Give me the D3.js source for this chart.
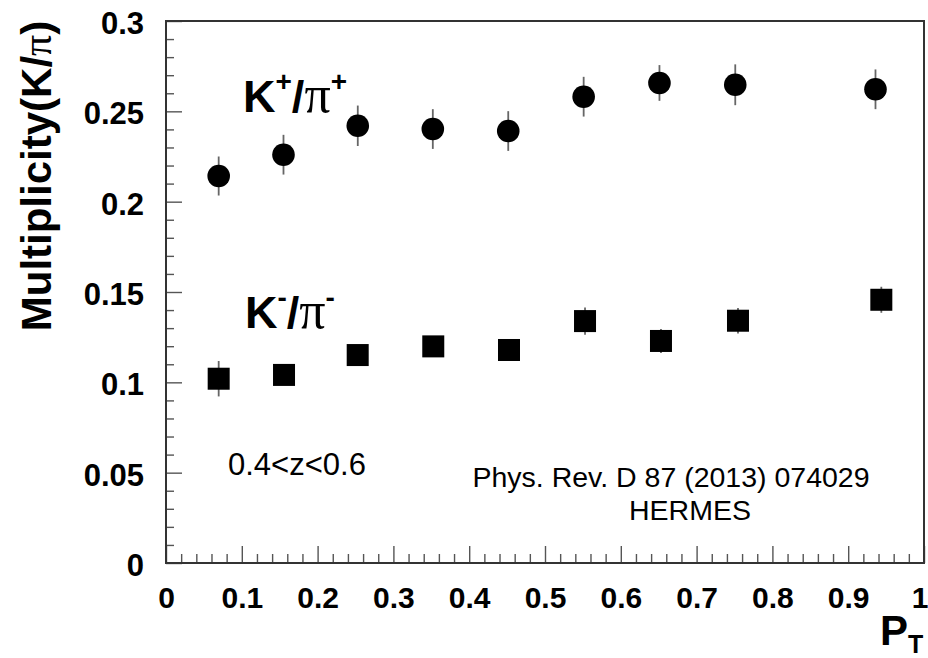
<!DOCTYPE html>
<html>
<head>
<meta charset="utf-8">
<script src="https://cdn.jsdelivr.net/npm/d3@7"></script>
<style>
  html, body { margin: 0; padding: 0; background: #fff; }
  svg { display: block; font-family: "Liberation Sans", Arial, Helvetica, sans-serif; }
</style>
</head>
<body>
<svg id="chart" width="928" height="658"></svg>
<script>
// K+/pi+ ratio vs P_T (circles)
const ptPos = [0.0695, 0.155, 0.253, 0.352, 0.4515, 0.551, 0.651, 0.751, 0.936];
const ratioPos = [0.2142, 0.2260, 0.2420, 0.2402, 0.2391, 0.2581, 0.2657, 0.2647, 0.2622];
const errPos = [0.0108, 0.0110, 0.0112, 0.0110, 0.0110, 0.0110, 0.0099, 0.0113, 0.0110];

// K-/pi- ratio vs P_T (squares)
const ptNeg = [0.0695, 0.1557, 0.2529, 0.3526, 0.4525, 0.5528, 0.6530, 0.7546, 0.9437];
const ratioNeg = [0.1020, 0.1041, 0.1151, 0.1199, 0.1179, 0.1339, 0.1229, 0.1341, 0.1457];
const errNeg = [0.0098, 0.0055, 0.0050, 0.0050, 0.0050, 0.0075, 0.0066, 0.0071, 0.0072];

// axis ticks
const xMajor = [0, 0.1, 0.2, 0.3, 0.4, 0.5, 0.6, 0.7, 0.8, 0.9, 1];
const xLabels = ["0", "0.1", "0.2", "0.3", "0.4", "0.5", "0.6", "0.7", "0.8", "0.9", "1"];
const yMajor = [0, 0.05, 0.1, 0.15, 0.2, 0.25, 0.3];
const yLabels = ["0", "0.05", "0.1", "0.15", "0.2", "0.25", "0.3"];

const svg = d3.select("#chart");
const L = 166, R = 924, T = 21, B = 563;

const x = d3.scaleLinear().domain([0, 1]).range([L, R]);
const y = d3.scaleLinear().domain([0, 0.3]).range([B, T]);

const tickColor = "#555";

// minor ticks
const xMinor = d3.range(0, 51).map(i => i * 0.02).filter(v => Math.abs(v * 10 - Math.round(v * 10)) > 1e-6);
const yMinor = d3.range(0, 31).map(i => i * 0.01).filter(v => Math.abs(v * 20 - Math.round(v * 20)) > 1e-6);

svg.append("g")
  .attr("transform", `translate(0,${B})`)
  .call(d3.axisBottom(x).tickValues(xMinor).tickSize(-9).tickFormat(""))
  .call(g => g.select(".domain").remove())
  .call(g => g.selectAll("line").attr("stroke", tickColor).attr("stroke-width", 1.4));

svg.append("g")
  .attr("transform", `translate(${L},0)`)
  .call(d3.axisLeft(y).tickValues(yMinor).tickSize(-8).tickFormat(""))
  .call(g => g.select(".domain").remove())
  .call(g => g.selectAll("line").attr("stroke", tickColor).attr("stroke-width", 1.4));

// major ticks with labels
svg.append("g")
  .attr("transform", `translate(0,${B})`)
  .call(d3.axisBottom(x).tickValues(xMajor).tickSize(-17).tickPadding(24)
        .tickFormat((d, i) => xLabels[i]))
  .call(g => g.select(".domain").remove())
  .call(g => g.selectAll("line").attr("stroke", tickColor).attr("stroke-width", 1.4))
  .call(g => g.selectAll("text")
      .attr("fill", "#000").attr("font-size", 30).attr("font-weight", "bold")
      .attr("font-family", "Liberation Sans, Arial, sans-serif"))
  // keep the last label inside the page edge
  .call(g => g.selectAll("text").filter(d => d === 1)
      .attr("text-anchor", "end").attr("x", 4));

svg.append("g")
  .attr("transform", `translate(${L},0)`)
  .call(d3.axisLeft(y).tickValues(yMajor).tickSize(-16).tickPadding(22)
        .tickFormat((d, i) => yLabels[i]))
  .call(g => g.select(".domain").remove())
  .call(g => g.selectAll("line").attr("stroke", tickColor).attr("stroke-width", 1.4))
  .call(g => g.selectAll("text")
      .attr("fill", "#000").attr("font-size", 31).attr("font-weight", "bold")
      .attr("dy", "0.4em")
      .attr("font-family", "Liberation Sans, Arial, sans-serif"));

// frame
svg.append("rect")
  .attr("x", L).attr("y", T)
  .attr("width", R - L).attr("height", B - T)
  .attr("fill", "none").attr("stroke", "#333").attr("stroke-width", 2);

// data
const pos = ptPos.map((p, i) => ({ p, v: ratioPos[i], e: errPos[i] }));
const neg = ptNeg.map((p, i) => ({ p, v: ratioNeg[i], e: errNeg[i] }));

function errorBars(data) {
  svg.append("g").selectAll("line").data(data).join("line")
    .attr("x1", d => x(d.p)).attr("x2", d => x(d.p))
    .attr("y1", d => y(d.v + d.e)).attr("y2", d => y(d.v - d.e))
    .attr("stroke", "#666").attr("stroke-width", 1.8);
}
errorBars(pos);
errorBars(neg);

svg.append("g").selectAll("circle").data(pos).join("circle")
  .attr("cx", d => x(d.p)).attr("cy", d => y(d.v)).attr("r", 11.3)
  .attr("fill", "#000");

const sq = 22;
svg.append("g").selectAll("rect").data(neg).join("rect")
  .attr("x", d => x(d.p) - sq / 2).attr("y", d => y(d.v) - sq / 2)
  .attr("width", sq).attr("height", sq)
  .attr("fill", "#000");

// series labels
function seriesLabel(xp, yp, sign) {
  const t = svg.append("text").attr("x", xp).attr("y", yp)
    .attr("font-size", 45).attr("font-weight", "bold").attr("fill", "#000");
  t.append("tspan").text("K");
  t.append("tspan").attr("font-size", 28).attr("dy", -21).text(sign);
  t.append("tspan").attr("dy", 21).text("/");
  t.append("tspan").attr("font-family", "Liberation Serif, DejaVu Serif, serif")
    .attr("font-weight", "normal").attr("font-size", 52).text("π");
  t.append("tspan").attr("font-size", 28).attr("dy", -21).text(sign);
}
seriesLabel(243, 112, "+");
seriesLabel(245, 328, "-");

// annotations
svg.append("text").attr("x", 228).attr("y", 475)
  .attr("font-size", 31).attr("fill", "#000").text("0.4<z<0.6");

svg.append("text").attr("x", 671).attr("y", 487).attr("text-anchor", "middle")
  .attr("font-size", 28.5).attr("fill", "#000").text("Phys. Rev. D 87 (2013) 074029");
svg.append("text").attr("x", 690).attr("y", 520).attr("text-anchor", "middle")
  .attr("font-size", 28.5).attr("fill", "#000").text("HERMES");

// axis titles
const xt = svg.append("text").attr("x", 880).attr("y", 645)
  .attr("font-size", 42).attr("font-weight", "bold").attr("fill", "#000");
xt.append("tspan").text("P");
xt.append("tspan").attr("font-size", 25).attr("dy", 8).text("T");

const yt = svg.append("text")
  .attr("transform", "translate(51,176) rotate(-90)")
  .attr("text-anchor", "middle")
  .attr("font-size", 42).attr("font-weight", "bold").attr("fill", "#000");
yt.append("tspan").text("Multiplicity(K/");
yt.append("tspan").attr("font-family", "Liberation Serif, DejaVu Serif, serif")
  .attr("font-weight", "normal").text("π");
yt.append("tspan").text(")");
</script>
</body>
</html>
